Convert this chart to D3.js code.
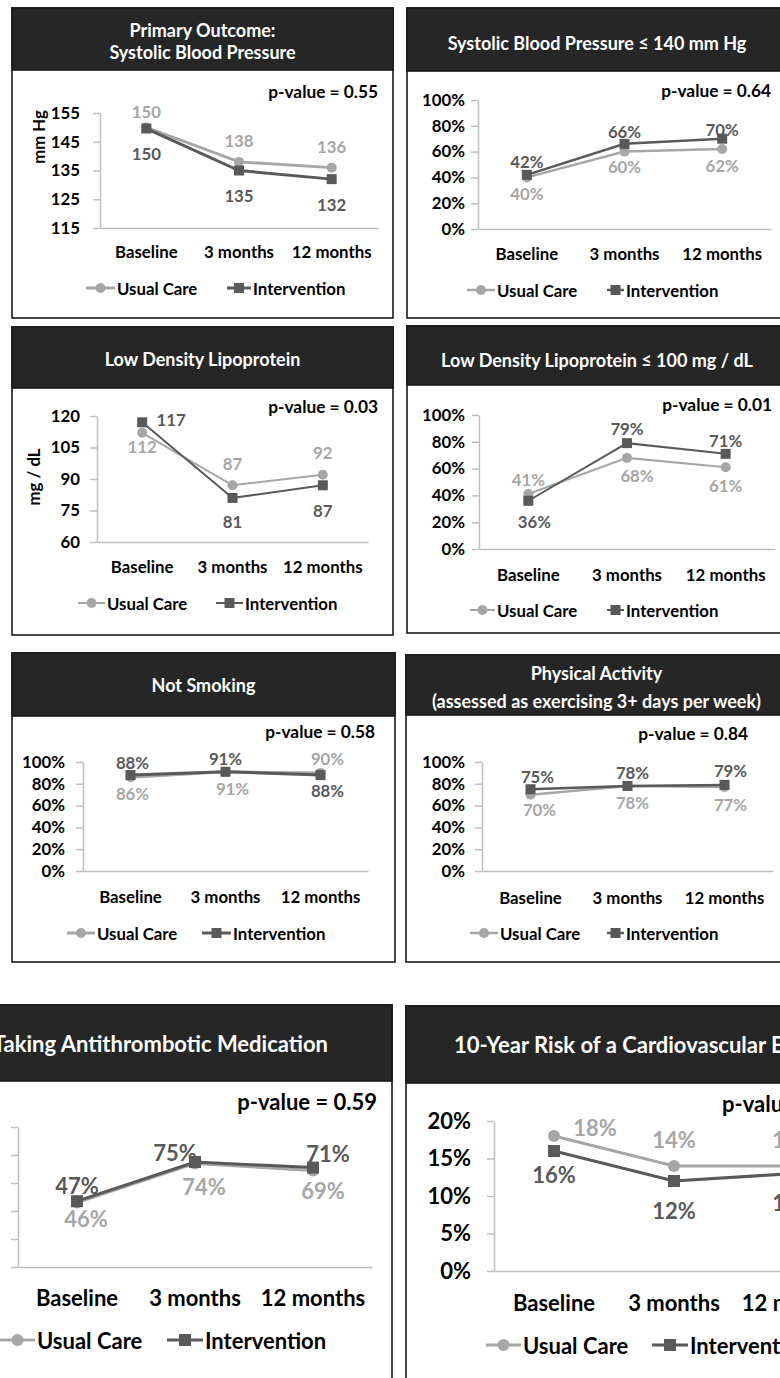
<!DOCTYPE html>
<html><head><meta charset="utf-8">
<script src="https://cdn.jsdelivr.net/npm/d3@7"></script>
<style>
body{margin:0;background:#fff;}
svg{display:block;font-family:Lato,"Open Sans",sans-serif;font-weight:bold;}
</style>
</head><body>
<svg id="chart" width="780" height="1378"></svg>
<script>
// ---------- DATA ----------
const categories = ["Baseline", "3 months", "12 months"];
const seriesNames = ["Usual Care", "Intervention"];

const sbpUsual = [150, 138, 136];
const sbpIntervention = [149.6, 135, 132];
const sbpTargetUsual = [40, 60, 62];
const sbpTargetIntervention = [42, 66, 70];
const ldlUsual = [112, 87, 92];
const ldlIntervention = [117, 81, 87];
const ldlTargetUsual = [41, 68, 61];
const ldlTargetIntervention = [36, 79, 71];
const notSmokingUsual = [86, 91, 90];
const notSmokingIntervention = [88, 91, 88];
const activityUsual = [70, 78, 77];
const activityIntervention = [75, 78, 79];
const antithromboticUsual = [46, 74, 69];
const antithromboticIntervention = [47, 75, 71];
const cvRiskUsual = [18, 14, 14];
const cvRiskIntervention = [16, 12, 13];

const mmHgTicks = [115, 125, 135, 145, 155];
const ldlTicks = [60, 75, 90, 105, 120];
const pctTicks = [0, 20, 40, 60, 80, 100];
const riskTicks = [0, 5, 10, 15, 20];

const pValues = ["0.55", "0.64", "0.03", "0.01", "0.58", "0.84", "0.59", ""];

// ---------- LAYOUT ----------
const USUAL_LINE = "#a6a6a6", INT_LINE = "#595959";
const USUAL_TXT = "#a6a6a6", INT_TXT = "#595959";
const pct = d => d + "%";
const num = d => d;

const panels = [
  { title:["Primary Outcome:","Systolic Blood Pressure"], titleY:[37,58.5],
    usual:sbpUsual, inter:sbpIntervention, domain:[115,155], ticks:mmHgTicks, fmt:num, label:num,
    pv:pValues[0], box:[12,8,381,310], hh:62, ax:[100,378], yr:[228,113], tickGap:20, xPad:18,
    pvX:378, pvY:98, yLabel:"mm Hg", yLabelPos:[38,137], legY:288, leg:[86,117,227,253],
    fs:16.8, pfs:17.3, ts:18, lw:3, r:5, sq:10,
    uOff:[[0,-16],[0,-21],[0,-21]], iOff:[[0,25],[0,25],[0,25]] },
  { title:["Systolic Blood Pressure \u2264 140 mm Hg"], titleY:[50],
    usual:sbpTargetUsual, inter:sbpTargetIntervention, domain:[0,100], ticks:pctTicks, fmt:pct, label:pct,
    pv:pValues[1], box:[407,8,380,310], hh:63, ax:[478,771], yr:[229,100], tickGap:13, xPad:19,
    pvX:771, pvY:96.7, legY:290, leg:[467,497,607,626],
    fs:16.8, pfs:17.3, ts:18, lw:2.5, r:5, sq:10,
    uOff:[[0,16],[0,15],[0,16]], iOff:[[0,-13],[0,-12],[0,-9]] },
  { title:["Low Density Lipoprotein"], titleY:[366],
    usual:ldlUsual, inter:ldlIntervention, domain:[60,120], ticks:ldlTicks, fmt:num, label:num,
    pv:pValues[2], box:[12,327,381,308], hh:61, ax:[97,368], yr:[542,416], tickGap:17, xPad:19.5,
    pvX:378, pvY:413, yLabel:"mg / dL", yLabelPos:[33,477], legY:603, leg:[78,107,216,245],
    fs:16.8, pfs:17.3, ts:18, lw:2, r:5, sq:10,
    uOff:[[0,14],[0,-22],[0,-22]], iOff:[[29,-3],[0,24],[0,25]] },
  { title:["Low Density Lipoprotein \u2264 100 mg / dL"], titleY:[366.5],
    usual:ldlTargetUsual, inter:ldlTargetIntervention, domain:[0,100], ticks:pctTicks, fmt:pct, label:pct,
    pv:pValues[3], box:[407,326,380,307], hh:59, ax:[479,775], yr:[549,415], tickGap:14, xPad:20,
    pvX:772, pvY:410.7, legY:610, leg:[470,497,607,626],
    fs:16.8, pfs:17.3, ts:18, lw:2, r:5, sq:10,
    uOff:[[0,-15],[10,18],[0,18]], iOff:[[6,21],[0,-15],[0,-13]] },
  { title:["Not Smoking"], titleY:[692.3],
    usual:notSmokingUsual, inter:notSmokingIntervention, domain:[0,100], ticks:pctTicks, fmt:pct, label:pct,
    pv:pValues[4], box:[12,653,383,309], hh:63, ax:[83,368], yr:[871,762], tickGap:18, xPad:20.5,
    pvX:375, pvY:738.3, legY:933, leg:[67,97,202,233],
    fs:16.8, pfs:17.3, ts:18, lw:3, r:5, sq:10,
    uOff:[[2,16],[7,16.5],[7,-14.6]], iOff:[[2,-13],[0,-13.5],[7,15]] },
  { title:["Physical Activity","(assessed as exercising 3+ days per week)"], titleY:[680,708.3],
    usual:activityUsual, inter:activityIntervention, domain:[0,100], ticks:pctTicks, fmt:pct, label:pct,
    pv:pValues[5], box:[406,655,381,307], hh:60, ax:[482,773], yr:[871,762], tickGap:17, xPad:21,
    pvX:748, pvY:740, legY:933, leg:[470,500,607,626],
    fs:16.8, pfs:17.3, ts:18, lw:2.5, r:5, sq:10,
    uOff:[[9,15],[5,17],[6,17]], iOff:[[7,-13],[5,-13],[6,-14]] },
  { title:["Taking Antithrombotic Medication"], titleY:[1051.7], titleX:328, titleAnchor:"end",
    usual:antithromboticUsual, inter:antithromboticIntervention, domain:[0,100], ticks:pctTicks, fmt:pct, label:pct,
    pv:pValues[6], box:[-94,1005,486,420], hh:76, ax:[18,372], yr:[1267,1127], tickGap:22, xPad:23,
    pvX:377, pvY:1110, legY:1340, leg:[0,37,167,205],
    fs:22, pfs:22, ts:22, lw:3, r:6, sq:12,
    uOff:[[9,16],[9,22.6],[10,20]], iOff:[[0,-16],[-20,-10],[15,-14]] },
  { title:["10-Year Risk of a Cardiovascular Event"], titleY:[1053], titleX:454, titleAnchor:"start",
    usual:cvRiskUsual, inter:cvRiskIntervention, domain:[0,20], ticks:riskTicks, fmt:pct, label:pct,
    pv:pValues[7], pvStart:true, box:[406,1006,492,420], hh:77, ax:[494,854], yr:[1271,1121], tickGap:23, xPad:24,
    pvX:722, pvY:1111.7, legY:1345, leg:[486,523,652,690],
    fs:22, pfs:22, ts:22, lw:3, r:6, sq:12,
    uOff:[[41,-9],[0,-27],[0,-27]], iOff:[[0,23],[0,29],[0,29]] }
];

const svg = d3.select("#chart");

function drawPanel(p){
  const g = svg.append("g");
  const [bx,by,bw,bh] = p.box;
  g.append("rect").attr("x",bx).attr("y",by).attr("width",bw).attr("height",bh)
    .attr("fill","#fff").attr("stroke","#1a1a1a").attr("stroke-width",1.6);
  g.append("rect").attr("x",bx).attr("y",by).attr("width",bw).attr("height",p.hh)
    .attr("fill","#262626").attr("stroke","#1a1a1a").attr("stroke-width",1.6);
  p.title.forEach((t,i)=>{
    g.append("text").attr("x",p.titleX!=null ? p.titleX : bx+bw/2).attr("y",p.titleY[i])
      .attr("text-anchor",p.titleAnchor||"middle").attr("fill","#fff").attr("font-size",p.ts).text(t);
  });

  const x = d3.scaleBand().domain(categories).range(p.ax).paddingInner(0).paddingOuter(0);
  const cx = c => x(c) + x.bandwidth()/2;
  const y = d3.scaleLinear().domain(p.domain).range(p.yr);

  const ya = g.append("g").attr("transform",`translate(${p.ax[0]},0)`)
    .call(d3.axisLeft(y).tickValues(p.ticks).tickFormat(p.fmt).tickSize(7).tickSizeOuter(0).tickPadding(p.tickGap-7));
  ya.select(".domain").attr("stroke","#bfbfbf").attr("stroke-width",1.5);
  ya.selectAll(".tick line").attr("stroke","#bfbfbf").attr("stroke-width",1.5);
  ya.selectAll(".tick text").attr("fill","#000").attr("font-size",p.fs)
    .attr("font-family",'Lato,"Open Sans",sans-serif').attr("font-weight","bold");

  const xa = g.append("g").attr("transform",`translate(0,${p.yr[0]})`)
    .call(d3.axisBottom(x).tickSize(0).tickSizeOuter(0).tickPadding(p.xPad));
  xa.select(".domain").attr("stroke","#bfbfbf").attr("stroke-width",1.5);
  xa.selectAll(".tick text").attr("fill","#000").attr("font-size",p.fs)
    .attr("font-family",'Lato,"Open Sans",sans-serif').attr("font-weight","bold");

  if (p.yLabel){
    g.append("text").attr("transform",`translate(${p.yLabelPos[0]},${p.yLabelPos[1]}) rotate(-90)`)
      .attr("text-anchor","middle").attr("dominant-baseline","central")
      .attr("font-size",p.fs).attr("fill","#000").text(p.yLabel);
  }

  g.append("text").attr("x",p.pvX).attr("y",p.pvY)
    .attr("text-anchor",p.pvStart?"start":"end").attr("font-size",p.pfs).attr("fill","#000")
    .text(p.pv ? "p-value = " + p.pv : "p-value");

  const line = d3.line().x((d,i)=>cx(categories[i])).y(d=>y(d));
  // usual care
  g.append("path").datum(p.usual).attr("d",line).attr("fill","none")
    .attr("stroke",USUAL_LINE).attr("stroke-width",p.lw);
  g.selectAll(null).data(p.usual).enter().append("circle")
    .attr("cx",(d,i)=>cx(categories[i])).attr("cy",d=>y(d)).attr("r",p.r).attr("fill",USUAL_LINE);
  // intervention
  g.append("path").datum(p.inter).attr("d",line).attr("fill","none")
    .attr("stroke",INT_LINE).attr("stroke-width",p.lw);
  g.selectAll(null).data(p.inter).enter().append("rect")
    .attr("x",(d,i)=>cx(categories[i])-p.sq/2).attr("y",d=>y(d)-p.sq/2)
    .attr("width",p.sq).attr("height",p.sq).attr("fill",INT_LINE);

  // data labels
  g.selectAll(null).data(p.usual).enter().append("text")
    .attr("x",(d,i)=>cx(categories[i])+p.uOff[i][0]).attr("y",(d,i)=>y(d)+p.uOff[i][1])
    .attr("text-anchor","middle").attr("dominant-baseline","central")
    .attr("font-size",p.fs).attr("fill",USUAL_TXT).text(d=>p.label(Math.round(d)));
  g.selectAll(null).data(p.inter).enter().append("text")
    .attr("x",(d,i)=>cx(categories[i])+p.iOff[i][0]).attr("y",(d,i)=>y(d)+p.iOff[i][1])
    .attr("text-anchor","middle").attr("dominant-baseline","central")
    .attr("font-size",p.fs).attr("fill",INT_TXT).text(d=>p.label(Math.round(d)));

  // legend
  const [ux,utx,ix,itx] = p.leg;
  const ly = p.legY;
  g.append("line").attr("x1",ux).attr("x2",utx-2).attr("y1",ly).attr("y2",ly)
    .attr("stroke",USUAL_LINE).attr("stroke-width",p.lw);
  g.append("circle").attr("cx",(ux+utx-2)/2).attr("cy",ly).attr("r",p.r).attr("fill",USUAL_LINE);
  g.append("text").attr("x",utx).attr("y",ly).attr("dominant-baseline","central")
    .attr("font-size",p.fs).attr("fill","#000").text(seriesNames[0]);
  g.append("line").attr("x1",ix).attr("x2",itx-2).attr("y1",ly).attr("y2",ly)
    .attr("stroke",INT_LINE).attr("stroke-width",p.lw);
  g.append("rect").attr("x",(ix+itx-2)/2-p.sq/2).attr("y",ly-p.sq/2).attr("width",p.sq).attr("height",p.sq)
    .attr("fill",INT_LINE);
  g.append("text").attr("x",itx).attr("y",ly).attr("dominant-baseline","central")
    .attr("font-size",p.fs).attr("fill","#000").text(seriesNames[1]);
}

panels.forEach(drawPanel);
</script>
</body></html>
